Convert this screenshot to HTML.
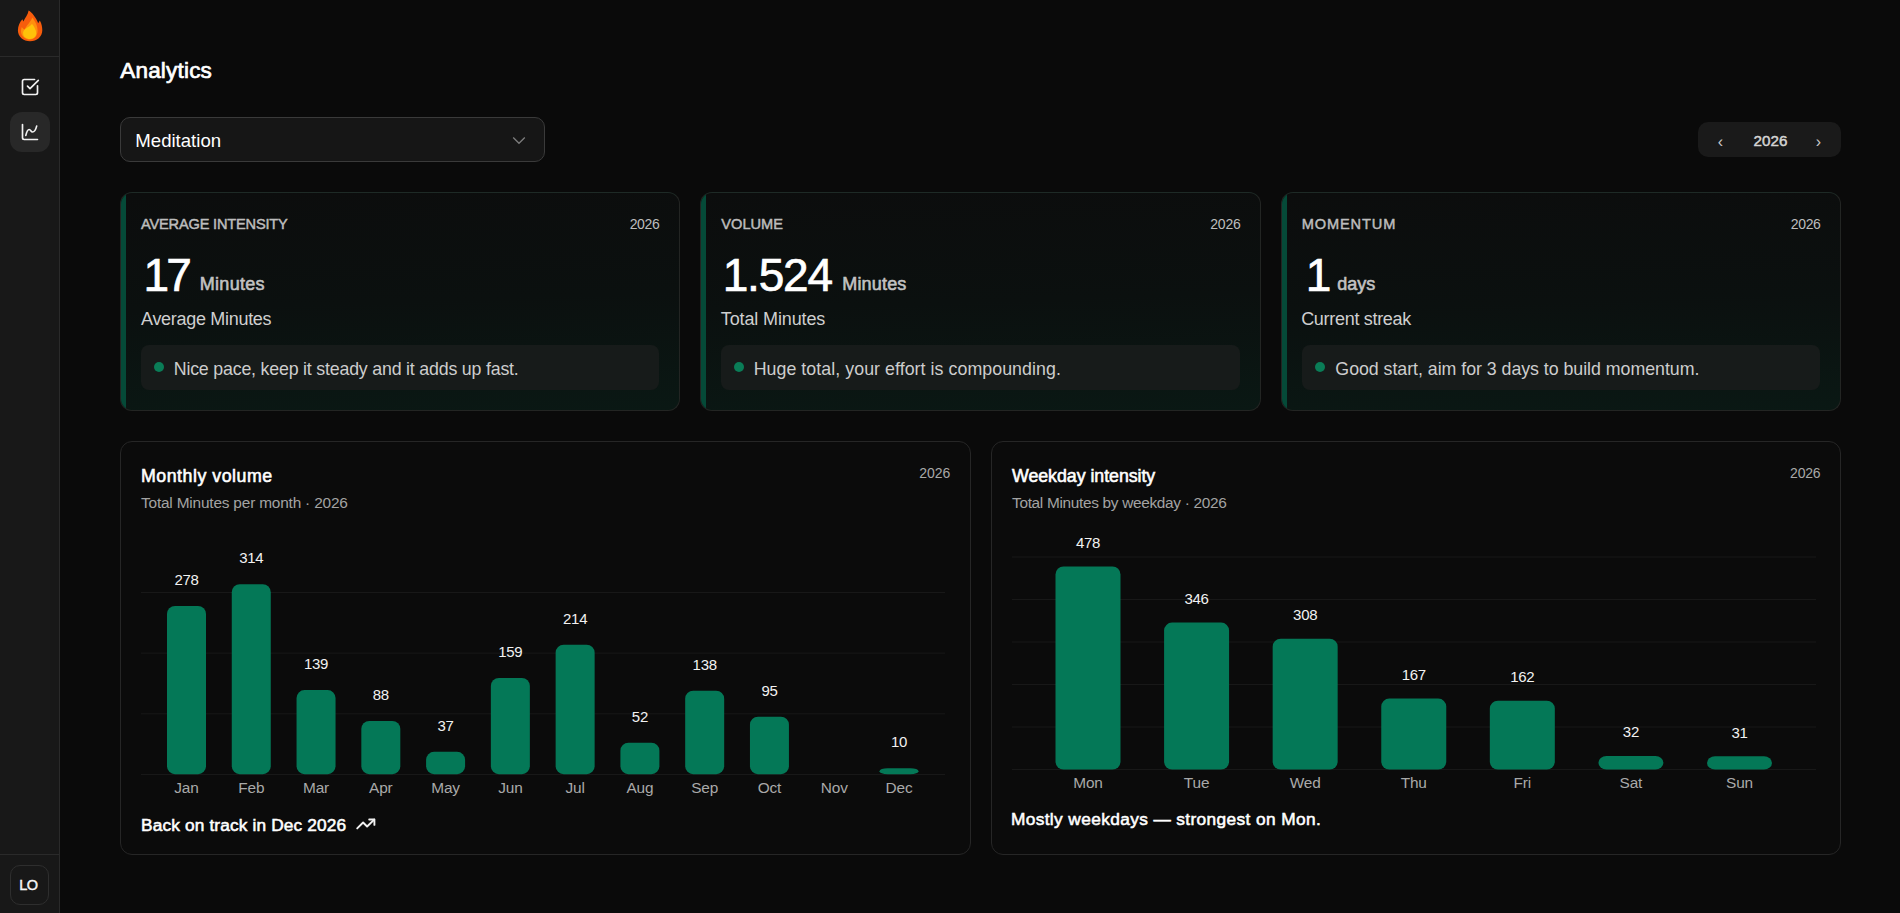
<!DOCTYPE html>
<html lang="en"><head><meta charset="utf-8"><title>Analytics</title>
<style>
html,body{margin:0;padding:0;}
body{width:1900px;height:913px;overflow:hidden;background:#0a0a0a;position:relative;font-family:"Liberation Sans",sans-serif;}
h1,h2{margin:0;}
.t{position:absolute;white-space:nowrap;margin:0;}
.r{position:absolute;}
.card{position:absolute;box-sizing:border-box;border-radius:12px;overflow:hidden;}
.stat{border:1px solid #232523;border-top-color:#1e2a26;background:linear-gradient(178deg,#0c0d0d 0%,#0b100f 50%,#0a1814 100%);}
.strip{position:absolute;left:0;top:0;bottom:0;width:5px;background:#054a38;}
.chart{border:1px solid #262626;background:#0b0b0b;}
.bar{background:#047857;}
</style></head><body>
<aside class="sidebar">
<div class="r" style="left:0px;top:0px;width:60px;height:913px;background:#181818;border-right:1px solid #2a2a2a;box-sizing:border-box;"></div>
<div class="r" style="left:0px;top:56px;width:59px;height:1px;background:#2a2a2a;"></div>
<div class="r" style="left:0px;top:854px;width:59px;height:1px;background:#2a2a2a;"></div>
<svg class="r" style="left:0;top:0" width="60" height="56" viewBox="0 0 60 56">
<path d="M28.6 10.6 C32 12.5 36 17.5 38.2 23.3 L39.8 20.6 C41.6 23.5 42.3 27 42.3 30.2 C42.3 36.6 36.9 41.2 30.1 41.2 C23.3 41.2 17.9 36.6 17.9 30.2 C17.9 26 19.8 22 22.4 19.2 L23.4 21.6 C25 18 28 14.8 28.6 10.6 Z" fill="#f65c0c"/>
<path d="M32.3 17.6 C34.8 21 37.6 25.5 37.6 30.6 C37.6 35.8 34.2 39.6 30 39.6 C25.4 39.6 21 36.2 21 31.2 C21 29.8 21.3 28.4 21.8 27.1 C22.8 28.6 23.8 29.4 24.8 29.6 C26.4 25.2 30.6 22.5 32.3 17.6 Z" fill="#ff8f0f"/>
<path d="M31.9 23.8 C34.4 26.8 36.2 30 36.2 33.2 C36.2 36.6 33.6 38.9 30.1 38.9 C26.2 38.9 23.1 36.6 23.1 33.4 C23.1 30.2 25.8 28.5 28.3 27 C29.8 26.1 31.3 25.2 31.9 23.8 Z" fill="#ffc20a"/>
</svg>
<svg class="r" style="left:20px;top:77px" width="20" height="20" viewBox="0 0 24 24" fill="none" stroke="#f2f2f2" stroke-width="2" stroke-linecap="round" stroke-linejoin="round"><path d="M21 10.5V19a2 2 0 0 1-2 2H5a2 2 0 0 1-2-2V5a2 2 0 0 1 2-2h12.5"/><path d="m9 11 3 3L22 4"/></svg>
<div class="r" style="left:10px;top:112px;width:40px;height:40px;background:#282828;border-radius:12px;"></div>
<svg class="r" style="left:20px;top:122px" width="20" height="20" viewBox="0 0 24 24" fill="none" stroke="#f2f2f2" stroke-width="2" stroke-linecap="round" stroke-linejoin="round"><path d="M3 3v16a2 2 0 0 0 2 2h16"/><path d="M7 16c.5-2 1.5-7 4-7 2 0 2 3 4 3 2.5 0 4.5-5 5-7"/></svg>
<div class="r" style="left:10px;top:865px;width:39px;height:40px;border:1px solid #2e2e2e;border-radius:10px;box-sizing:border-box;"></div>
<div class="t" style="top:877.73px;font-size:14.50px;line-height:14.50px;color:#f5f5f5;font-weight:400;-webkit-text-stroke:0.46px #f5f5f5;letter-spacing:-0.700px;left:19.30px;">LO</div>
</aside>
<main>
<h1 class="t" style="top:59.95px;font-size:22.50px;line-height:22.50px;color:#ffffff;font-weight:400;-webkit-text-stroke:0.72px #ffffff;letter-spacing:0.191px;left:120.28px;">Analytics</h1>
<div class="r" style="left:120px;top:117px;width:425px;height:45px;background:#161616;border:1px solid #3a3a3a;border-radius:10px;box-sizing:border-box;"></div>
<div class="t" style="top:132.26px;font-size:18.60px;line-height:18.60px;color:#ffffff;left:135.32px;">Meditation</div>
<svg class="r" style="left:512px;top:135.6px" width="14" height="9" viewBox="0 0 14 9" fill="none" stroke="#7c7c7c" stroke-width="1.3"><path d="M1.2 1.5 L7 7.3 L12.8 1.5"/></svg>
<div class="r" style="left:1698px;top:122px;width:143px;height:35px;background:#1a1a1a;border-radius:10px;"></div>
<div class="t" style="top:134.16px;font-size:16.00px;line-height:16.00px;color:#c8c8c8;left:1720.30px;transform:translateX(-50%);">&#8249;</div>
<div class="t" style="top:133.13px;font-size:15.20px;line-height:15.20px;color:#d4d4d4;font-weight:400;-webkit-text-stroke:0.49px #d4d4d4;left:1753.60px;">2026</div>
<div class="t" style="top:134.16px;font-size:16.00px;line-height:16.00px;color:#c8c8c8;left:1818.50px;transform:translateX(-50%);">&#8250;</div>
<section class="card stat" style="left:120.00px;top:192px;width:560.33px;height:219px;"><div class="strip"></div></section>
<div class="t" style="top:216.64px;font-size:14.60px;line-height:14.60px;color:#bdbdbd;font-weight:400;-webkit-text-stroke:0.47px #bdbdbd;letter-spacing:-0.184px;left:141.00px;">AVERAGE INTENSITY</div>
<div class="t" style="top:217.15px;font-size:14.00px;line-height:14.00px;color:#bdbdbd;letter-spacing:-0.326px;right:1240.53px;">2026</div>
<div class="t" style="top:252.06px;font-size:46.00px;line-height:46.00px;color:#ffffff;letter-spacing:-2.590px;left:143.39px;-webkit-text-stroke:0.7px #fff;">17</div>
<div class="t" style="top:274.76px;font-size:18.00px;line-height:18.00px;color:#c2c2c2;font-weight:400;-webkit-text-stroke:0.58px #c2c2c2;letter-spacing:0.291px;left:199.79px;">Minutes</div>
<div class="t" style="top:310.06px;font-size:18.00px;line-height:18.00px;color:#cfcfcf;letter-spacing:-0.300px;left:141.00px;">Average Minutes</div>
<div class="r" style="left:141.00px;top:345px;width:518.33px;height:45px;background:#171b1a;border-radius:8px;"></div>
<div class="r" style="left:154.00px;top:362px;width:10px;height:10px;border-radius:50%;background:#0a7d57;"></div>
<div class="t" style="top:361.43px;font-size:17.80px;line-height:17.80px;color:#cdcdcd;letter-spacing:-0.197px;left:173.79px;">Nice pace, keep it steady and it adds up fast.</div>
<section class="card stat" style="left:700.33px;top:192px;width:560.33px;height:219px;"><div class="strip"></div></section>
<div class="t" style="top:216.64px;font-size:14.60px;line-height:14.60px;color:#bdbdbd;font-weight:400;-webkit-text-stroke:0.47px #bdbdbd;left:721.33px;">VOLUME</div>
<div class="t" style="top:217.15px;font-size:14.00px;line-height:14.00px;color:#bdbdbd;letter-spacing:-0.163px;right:659.35px;">2026</div>
<div class="t" style="top:252.06px;font-size:46.00px;line-height:46.00px;color:#ffffff;letter-spacing:-1.190px;left:722.67px;-webkit-text-stroke:0.7px #fff;">1.524</div>
<div class="t" style="top:274.76px;font-size:18.00px;line-height:18.00px;color:#c2c2c2;font-weight:400;-webkit-text-stroke:0.58px #c2c2c2;letter-spacing:0.185px;left:842.22px;">Minutes</div>
<div class="t" style="top:310.06px;font-size:18.00px;line-height:18.00px;color:#cfcfcf;letter-spacing:-0.128px;left:720.84px;">Total Minutes</div>
<div class="r" style="left:721.33px;top:345px;width:518.33px;height:45px;background:#171b1a;border-radius:8px;"></div>
<div class="r" style="left:734.33px;top:362px;width:10px;height:10px;border-radius:50%;background:#0a7d57;"></div>
<div class="t" style="top:361.43px;font-size:17.80px;line-height:17.80px;color:#cdcdcd;letter-spacing:0.056px;left:753.63px;">Huge total, your effort is compounding.</div>
<section class="card stat" style="left:1280.67px;top:192px;width:560.33px;height:219px;"><div class="strip"></div></section>
<div class="t" style="top:216.64px;font-size:14.60px;line-height:14.60px;color:#bdbdbd;font-weight:400;-webkit-text-stroke:0.47px #bdbdbd;letter-spacing:0.880px;left:1301.67px;">MOMENTUM</div>
<div class="t" style="top:217.15px;font-size:14.00px;line-height:14.00px;color:#bdbdbd;letter-spacing:-0.397px;right:79.58px;">2026</div>
<div class="t" style="top:252.06px;font-size:46.00px;line-height:46.00px;color:#ffffff;left:1305.67px;-webkit-text-stroke:0.7px #fff;">1</div>
<div class="t" style="top:274.76px;font-size:18.00px;line-height:18.00px;color:#c2c2c2;font-weight:400;-webkit-text-stroke:0.58px #c2c2c2;left:1337.20px;">days</div>
<div class="t" style="top:310.06px;font-size:18.00px;line-height:18.00px;color:#cfcfcf;letter-spacing:-0.302px;left:1301.18px;">Current streak</div>
<div class="r" style="left:1301.67px;top:345px;width:518.33px;height:45px;background:#171b1a;border-radius:8px;"></div>
<div class="r" style="left:1314.67px;top:362px;width:10px;height:10px;border-radius:50%;background:#0a7d57;"></div>
<div class="t" style="top:361.43px;font-size:17.80px;line-height:17.80px;color:#cdcdcd;letter-spacing:-0.038px;left:1335.37px;">Good start, aim for 3 days to build momentum.</div>
<section class="card chart" style="left:120.00px;top:441px;width:850.50px;height:414px;"></section>
<div class="t" style="top:466.15px;font-size:14.00px;line-height:14.00px;color:#a8a8a8;right:949.66px;">2026</div>
<section class="card chart" style="left:990.50px;top:441px;width:850.50px;height:414px;"></section>
<div class="t" style="top:466.15px;font-size:14.00px;line-height:14.00px;color:#a8a8a8;letter-spacing:-0.210px;right:79.58px;">2026</div>
<h2 class="t" style="top:468.43px;font-size:17.80px;line-height:17.80px;color:#fff;font-weight:400;-webkit-text-stroke:0.57px #fff;letter-spacing:0.506px;left:141.00px;">Monthly volume</h2>
<div class="t" style="top:494.96px;font-size:15.40px;line-height:15.40px;color:#a3a3a3;letter-spacing:-0.184px;left:141.00px;">Total Minutes per month &middot; 2026</div>
<h2 class="t" style="top:468.43px;font-size:17.80px;line-height:17.80px;color:#fff;font-weight:400;-webkit-text-stroke:0.57px #fff;letter-spacing:-0.044px;left:1012.00px;">Weekday intensity</h2>
<div class="t" style="top:494.96px;font-size:15.40px;line-height:15.40px;color:#a3a3a3;letter-spacing:-0.313px;left:1012.00px;">Total Minutes by weekday &middot; 2026</div>
<div class="t" style="top:779.76px;font-size:15.40px;line-height:15.40px;color:#a9a9a9;letter-spacing:-0.150px;left:186.50px;transform:translateX(-50%);">Jan</div>
<div class="t" style="top:779.76px;font-size:15.40px;line-height:15.40px;color:#a9a9a9;letter-spacing:-0.150px;left:251.27px;transform:translateX(-50%);">Feb</div>
<div class="t" style="top:779.76px;font-size:15.40px;line-height:15.40px;color:#a9a9a9;letter-spacing:-0.150px;left:316.05px;transform:translateX(-50%);">Mar</div>
<div class="t" style="top:779.76px;font-size:15.40px;line-height:15.40px;color:#a9a9a9;letter-spacing:-0.150px;left:380.82px;transform:translateX(-50%);">Apr</div>
<div class="t" style="top:779.76px;font-size:15.40px;line-height:15.40px;color:#a9a9a9;letter-spacing:-0.150px;left:445.59px;transform:translateX(-50%);">May</div>
<div class="t" style="top:779.76px;font-size:15.40px;line-height:15.40px;color:#a9a9a9;letter-spacing:-0.150px;left:510.36px;transform:translateX(-50%);">Jun</div>
<div class="t" style="top:779.76px;font-size:15.40px;line-height:15.40px;color:#a9a9a9;letter-spacing:-0.150px;left:575.14px;transform:translateX(-50%);">Jul</div>
<div class="t" style="top:779.76px;font-size:15.40px;line-height:15.40px;color:#a9a9a9;letter-spacing:-0.150px;left:639.91px;transform:translateX(-50%);">Aug</div>
<div class="t" style="top:779.76px;font-size:15.40px;line-height:15.40px;color:#a9a9a9;letter-spacing:-0.150px;left:704.68px;transform:translateX(-50%);">Sep</div>
<div class="t" style="top:779.76px;font-size:15.40px;line-height:15.40px;color:#a9a9a9;letter-spacing:-0.150px;left:769.45px;transform:translateX(-50%);">Oct</div>
<div class="t" style="top:779.76px;font-size:15.40px;line-height:15.40px;color:#a9a9a9;letter-spacing:-0.150px;left:834.23px;transform:translateX(-50%);">Nov</div>
<div class="t" style="top:779.76px;font-size:15.40px;line-height:15.40px;color:#a9a9a9;letter-spacing:-0.150px;left:899.00px;transform:translateX(-50%);">Dec</div>
<div class="t" style="top:774.96px;font-size:15.40px;line-height:15.40px;color:#a9a9a9;letter-spacing:-0.150px;left:1088.00px;transform:translateX(-50%);">Mon</div>
<div class="t" style="top:774.96px;font-size:15.40px;line-height:15.40px;color:#a9a9a9;letter-spacing:-0.150px;left:1196.58px;transform:translateX(-50%);">Tue</div>
<div class="t" style="top:774.96px;font-size:15.40px;line-height:15.40px;color:#a9a9a9;letter-spacing:-0.150px;left:1305.17px;transform:translateX(-50%);">Wed</div>
<div class="t" style="top:774.96px;font-size:15.40px;line-height:15.40px;color:#a9a9a9;letter-spacing:-0.150px;left:1413.75px;transform:translateX(-50%);">Thu</div>
<div class="t" style="top:774.96px;font-size:15.40px;line-height:15.40px;color:#a9a9a9;letter-spacing:-0.150px;left:1522.33px;transform:translateX(-50%);">Fri</div>
<div class="t" style="top:774.96px;font-size:15.40px;line-height:15.40px;color:#a9a9a9;letter-spacing:-0.150px;left:1630.92px;transform:translateX(-50%);">Sat</div>
<div class="t" style="top:774.96px;font-size:15.40px;line-height:15.40px;color:#a9a9a9;letter-spacing:-0.150px;left:1739.50px;transform:translateX(-50%);">Sun</div>
<svg class="r" style="left:0;top:0" width="1900" height="913" viewBox="0 0 1900 913">
<line x1="141" y1="592.50" x2="945" y2="592.50" stroke="#181818" stroke-width="1"/>
<line x1="141" y1="653.17" x2="945" y2="653.17" stroke="#181818" stroke-width="1"/>
<line x1="141" y1="713.83" x2="945" y2="713.83" stroke="#181818" stroke-width="1"/>
<line x1="141" y1="774.50" x2="945" y2="774.50" stroke="#181818" stroke-width="1"/>
<line x1="1012" y1="557.00" x2="1816" y2="557.00" stroke="#181818" stroke-width="1"/>
<line x1="1012" y1="599.50" x2="1816" y2="599.50" stroke="#181818" stroke-width="1"/>
<line x1="1012" y1="642.00" x2="1816" y2="642.00" stroke="#181818" stroke-width="1"/>
<line x1="1012" y1="684.50" x2="1816" y2="684.50" stroke="#181818" stroke-width="1"/>
<line x1="1012" y1="727.00" x2="1816" y2="727.00" stroke="#181818" stroke-width="1"/>
<line x1="1012" y1="769.50" x2="1816" y2="769.50" stroke="#181818" stroke-width="1"/>
<rect x="167.00" y="605.98" width="39" height="168.22" rx="8" ry="8.00" fill="#047857"/>
<rect x="231.77" y="584.20" width="39" height="190.00" rx="8" ry="8.00" fill="#047857"/>
<rect x="296.55" y="690.09" width="39" height="84.11" rx="8" ry="8.00" fill="#047857"/>
<rect x="361.32" y="720.95" width="39" height="53.25" rx="8" ry="8.00" fill="#047857"/>
<rect x="426.09" y="751.81" width="39" height="22.39" rx="8" ry="8.00" fill="#047857"/>
<rect x="490.86" y="677.99" width="39" height="96.21" rx="8" ry="8.00" fill="#047857"/>
<rect x="555.64" y="644.71" width="39" height="129.49" rx="8" ry="8.00" fill="#047857"/>
<rect x="620.41" y="742.74" width="39" height="31.46" rx="8" ry="8.00" fill="#047857"/>
<rect x="685.18" y="690.70" width="39" height="83.50" rx="8" ry="8.00" fill="#047857"/>
<rect x="749.95" y="716.72" width="39" height="57.48" rx="8" ry="8.00" fill="#047857"/>
<rect x="879.50" y="768.15" width="39" height="6.05" rx="8" ry="3.03" fill="#047857"/>
<rect x="1055.50" y="566.50" width="65" height="203.00" rx="8" ry="8.00" fill="#047857"/>
<rect x="1164.08" y="622.56" width="65" height="146.94" rx="8" ry="8.00" fill="#047857"/>
<rect x="1272.67" y="638.70" width="65" height="130.80" rx="8" ry="8.00" fill="#047857"/>
<rect x="1381.25" y="698.58" width="65" height="70.92" rx="8" ry="8.00" fill="#047857"/>
<rect x="1489.83" y="700.70" width="65" height="68.80" rx="8" ry="8.00" fill="#047857"/>
<rect x="1598.42" y="755.91" width="65" height="13.59" rx="8" ry="6.79" fill="#047857"/>
<rect x="1707.00" y="756.33" width="65" height="13.17" rx="8" ry="6.58" fill="#047857"/>
</svg>
<div class="t" style="top:572.09px;font-size:15.00px;line-height:15.00px;color:#f2f2f2;letter-spacing:-0.300px;left:186.50px;transform:translateX(-50%);">278</div>
<div class="t" style="top:550.30px;font-size:15.00px;line-height:15.00px;color:#f2f2f2;letter-spacing:-0.300px;left:251.27px;transform:translateX(-50%);">314</div>
<div class="t" style="top:656.19px;font-size:15.00px;line-height:15.00px;color:#f2f2f2;letter-spacing:-0.300px;left:316.05px;transform:translateX(-50%);">139</div>
<div class="t" style="top:687.05px;font-size:15.00px;line-height:15.00px;color:#f2f2f2;letter-spacing:-0.300px;left:380.82px;transform:translateX(-50%);">88</div>
<div class="t" style="top:717.91px;font-size:15.00px;line-height:15.00px;color:#f2f2f2;letter-spacing:-0.300px;left:445.59px;transform:translateX(-50%);">37</div>
<div class="t" style="top:644.09px;font-size:15.00px;line-height:15.00px;color:#f2f2f2;letter-spacing:-0.300px;left:510.36px;transform:translateX(-50%);">159</div>
<div class="t" style="top:610.81px;font-size:15.00px;line-height:15.00px;color:#f2f2f2;letter-spacing:-0.300px;left:575.14px;transform:translateX(-50%);">214</div>
<div class="t" style="top:708.84px;font-size:15.00px;line-height:15.00px;color:#f2f2f2;letter-spacing:-0.300px;left:639.91px;transform:translateX(-50%);">52</div>
<div class="t" style="top:656.80px;font-size:15.00px;line-height:15.00px;color:#f2f2f2;letter-spacing:-0.300px;left:704.68px;transform:translateX(-50%);">138</div>
<div class="t" style="top:682.82px;font-size:15.00px;line-height:15.00px;color:#f2f2f2;letter-spacing:-0.300px;left:769.45px;transform:translateX(-50%);">95</div>
<div class="t" style="top:734.25px;font-size:15.00px;line-height:15.00px;color:#f2f2f2;letter-spacing:-0.300px;left:899.00px;transform:translateX(-50%);">10</div>
<div class="t" style="top:534.70px;font-size:15.00px;line-height:15.00px;color:#f2f2f2;letter-spacing:-0.300px;left:1088.00px;transform:translateX(-50%);">478</div>
<div class="t" style="top:590.76px;font-size:15.00px;line-height:15.00px;color:#f2f2f2;letter-spacing:-0.300px;left:1196.58px;transform:translateX(-50%);">346</div>
<div class="t" style="top:606.90px;font-size:15.00px;line-height:15.00px;color:#f2f2f2;letter-spacing:-0.300px;left:1305.17px;transform:translateX(-50%);">308</div>
<div class="t" style="top:666.78px;font-size:15.00px;line-height:15.00px;color:#f2f2f2;letter-spacing:-0.300px;left:1413.75px;transform:translateX(-50%);">167</div>
<div class="t" style="top:668.90px;font-size:15.00px;line-height:15.00px;color:#f2f2f2;letter-spacing:-0.300px;left:1522.33px;transform:translateX(-50%);">162</div>
<div class="t" style="top:724.11px;font-size:15.00px;line-height:15.00px;color:#f2f2f2;letter-spacing:-0.300px;left:1630.92px;transform:translateX(-50%);">32</div>
<div class="t" style="top:724.54px;font-size:15.00px;line-height:15.00px;color:#f2f2f2;letter-spacing:-0.300px;left:1739.50px;transform:translateX(-50%);">31</div>
<div class="t" style="top:817.36px;font-size:17.30px;line-height:17.30px;color:#fff;font-weight:400;-webkit-text-stroke:0.55px #fff;letter-spacing:0.145px;left:141.00px;">Back on track in Dec 2026</div>
<svg class="r" style="left:350px;top:810px" width="32" height="26" viewBox="0 0 32 26" fill="none" stroke="#f2f2f2" stroke-width="1.9" stroke-linecap="round" stroke-linejoin="round"><path d="M7.2 18.4 L13.1 12.5 L17.1 16.5 L24.2 9.6"/><path d="M19.2 9.5 H24.4 V14.9"/></svg>
<div class="t" style="top:811.36px;font-size:17.30px;line-height:17.30px;color:#fff;font-weight:400;-webkit-text-stroke:0.55px #fff;letter-spacing:0.384px;left:1010.88px;">Mostly weekdays &mdash; strongest on Mon.</div>
</main>
</body></html>
